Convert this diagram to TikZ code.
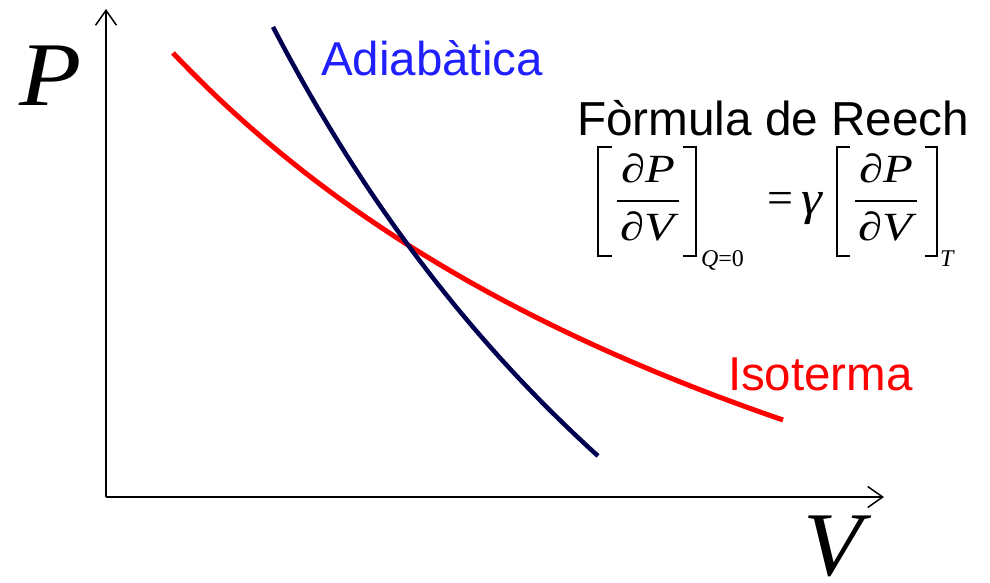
\documentclass[tikz,border=0pt]{standalone}
\usepackage{fontspec}
\usepackage{graphicx}
\setmainfont{Liberation Serif}
\newfontfamily\arialf{Liberation Sans}
\newfontfamily\timesf{Liberation Serif}
\usetikzlibrary{arrows.meta}
\definecolor{adiab}{RGB}{0,0,80}
\definecolor{adtext}{RGB}{32,32,255}
\definecolor{isored}{RGB}{255,0,0}
\newcommand{\wid}[1]{\scalebox{1.22}[1]{#1}}
\begin{document}
\begin{tikzpicture}[x=1pt,y=-1pt,
  lbl/.style={inner sep=0pt,outer sep=0pt,anchor=base west},
  axis/.style={line width=1.5pt,-{Straight Barb[length=15pt,width=21pt,line width=1.5pt]}},
  frm/.style={inner sep=0pt,outer sep=0pt,anchor=base,font=\timesf\fontsize{40}{44}\selectfont\itshape},
  sub/.style={inner sep=0pt,outer sep=0pt,anchor=base west,font=\timesf\fontsize{24}{28}\selectfont},
  brk/.style={line width=1.4pt}]
\useasboundingbox (0,0) rectangle (990,582);
% axes
\coordinate (O) at (106,497);
\coordinate (Ytip) at (106,9);
\coordinate (Xtip) at (884,497);
\draw[axis] (O) -- (Ytip);
\draw[axis] (O) -- (Xtip);
\node[lbl,font=\timesf\fontsize{91}{100}\selectfont\itshape] (Plab) at (19,105) {\scalebox{1.12}[1]{P}};
\node[lbl,font=\timesf\fontsize{91}{100}\selectfont\itshape] (Vlab) at (803,575) {\scalebox{1.06}[1]{V}};
% curves
\draw[isored,line width=5pt] plot[domain=173:783,samples=90] (\x,{908.8-695.362/((\x+639.5)/1000)});
\draw[adiab,line width=4.5pt] plot[domain=273:598,samples=90] (\x,{1400.4-982.668/((\x+442.5)/1000)});
% labels
\node[lbl,font=\arialf\fontsize{47.5}{55}\selectfont,text=adtext] (adl) at (321,75) {Adiabàtica};
\node[lbl,font=\arialf\fontsize{47.5}{55}\selectfont,text=isored] (isl) at (728,390) {Isoterma};
\node[lbl,font=\arialf\fontsize{47.7}{55}\selectfont] (fr) at (577,135) {Fòrmula de Reech};
% formula left
\node[frm] (n1) at (648,182) {\wid{∂P}};
\node[frm] (d1) at (647,240) {\wid{∂V}};
\draw[line width=1.5pt] (617,201) -- (679,201);
\draw[brk] (612,147) -- (598,147) -- (598,256) -- (612,256);
\draw[brk] (683,147) -- (696,147) -- (696,256) -- (683,256);
\node[sub] (s1) at (701,266) {\textit{Q}=0};
% equals and gamma
\node[inner sep=0pt,font=\timesf\fontsize{46}{50}\selectfont] (eq) at (780,203) {=};
\node[inner sep=0pt,anchor=base,font=\timesf\fontsize{48}{50}\selectfont\itshape] (g) at (812,214) {\scalebox{1.1}[1]{γ}};
% formula right
\node[frm] (n2) at (886,182) {\wid{∂P}};
\node[frm] (d2) at (885,240) {\wid{∂V}};
\draw[line width=1.5pt] (855,201) -- (917,201);
\draw[brk] (850,147) -- (837,147) -- (837,256) -- (850,256);
\draw[brk] (925,147) -- (937,147) -- (937,256) -- (925,256);
\node[sub] (s2) at (940,266) {\textit{T}};
\end{tikzpicture}
\end{document}
